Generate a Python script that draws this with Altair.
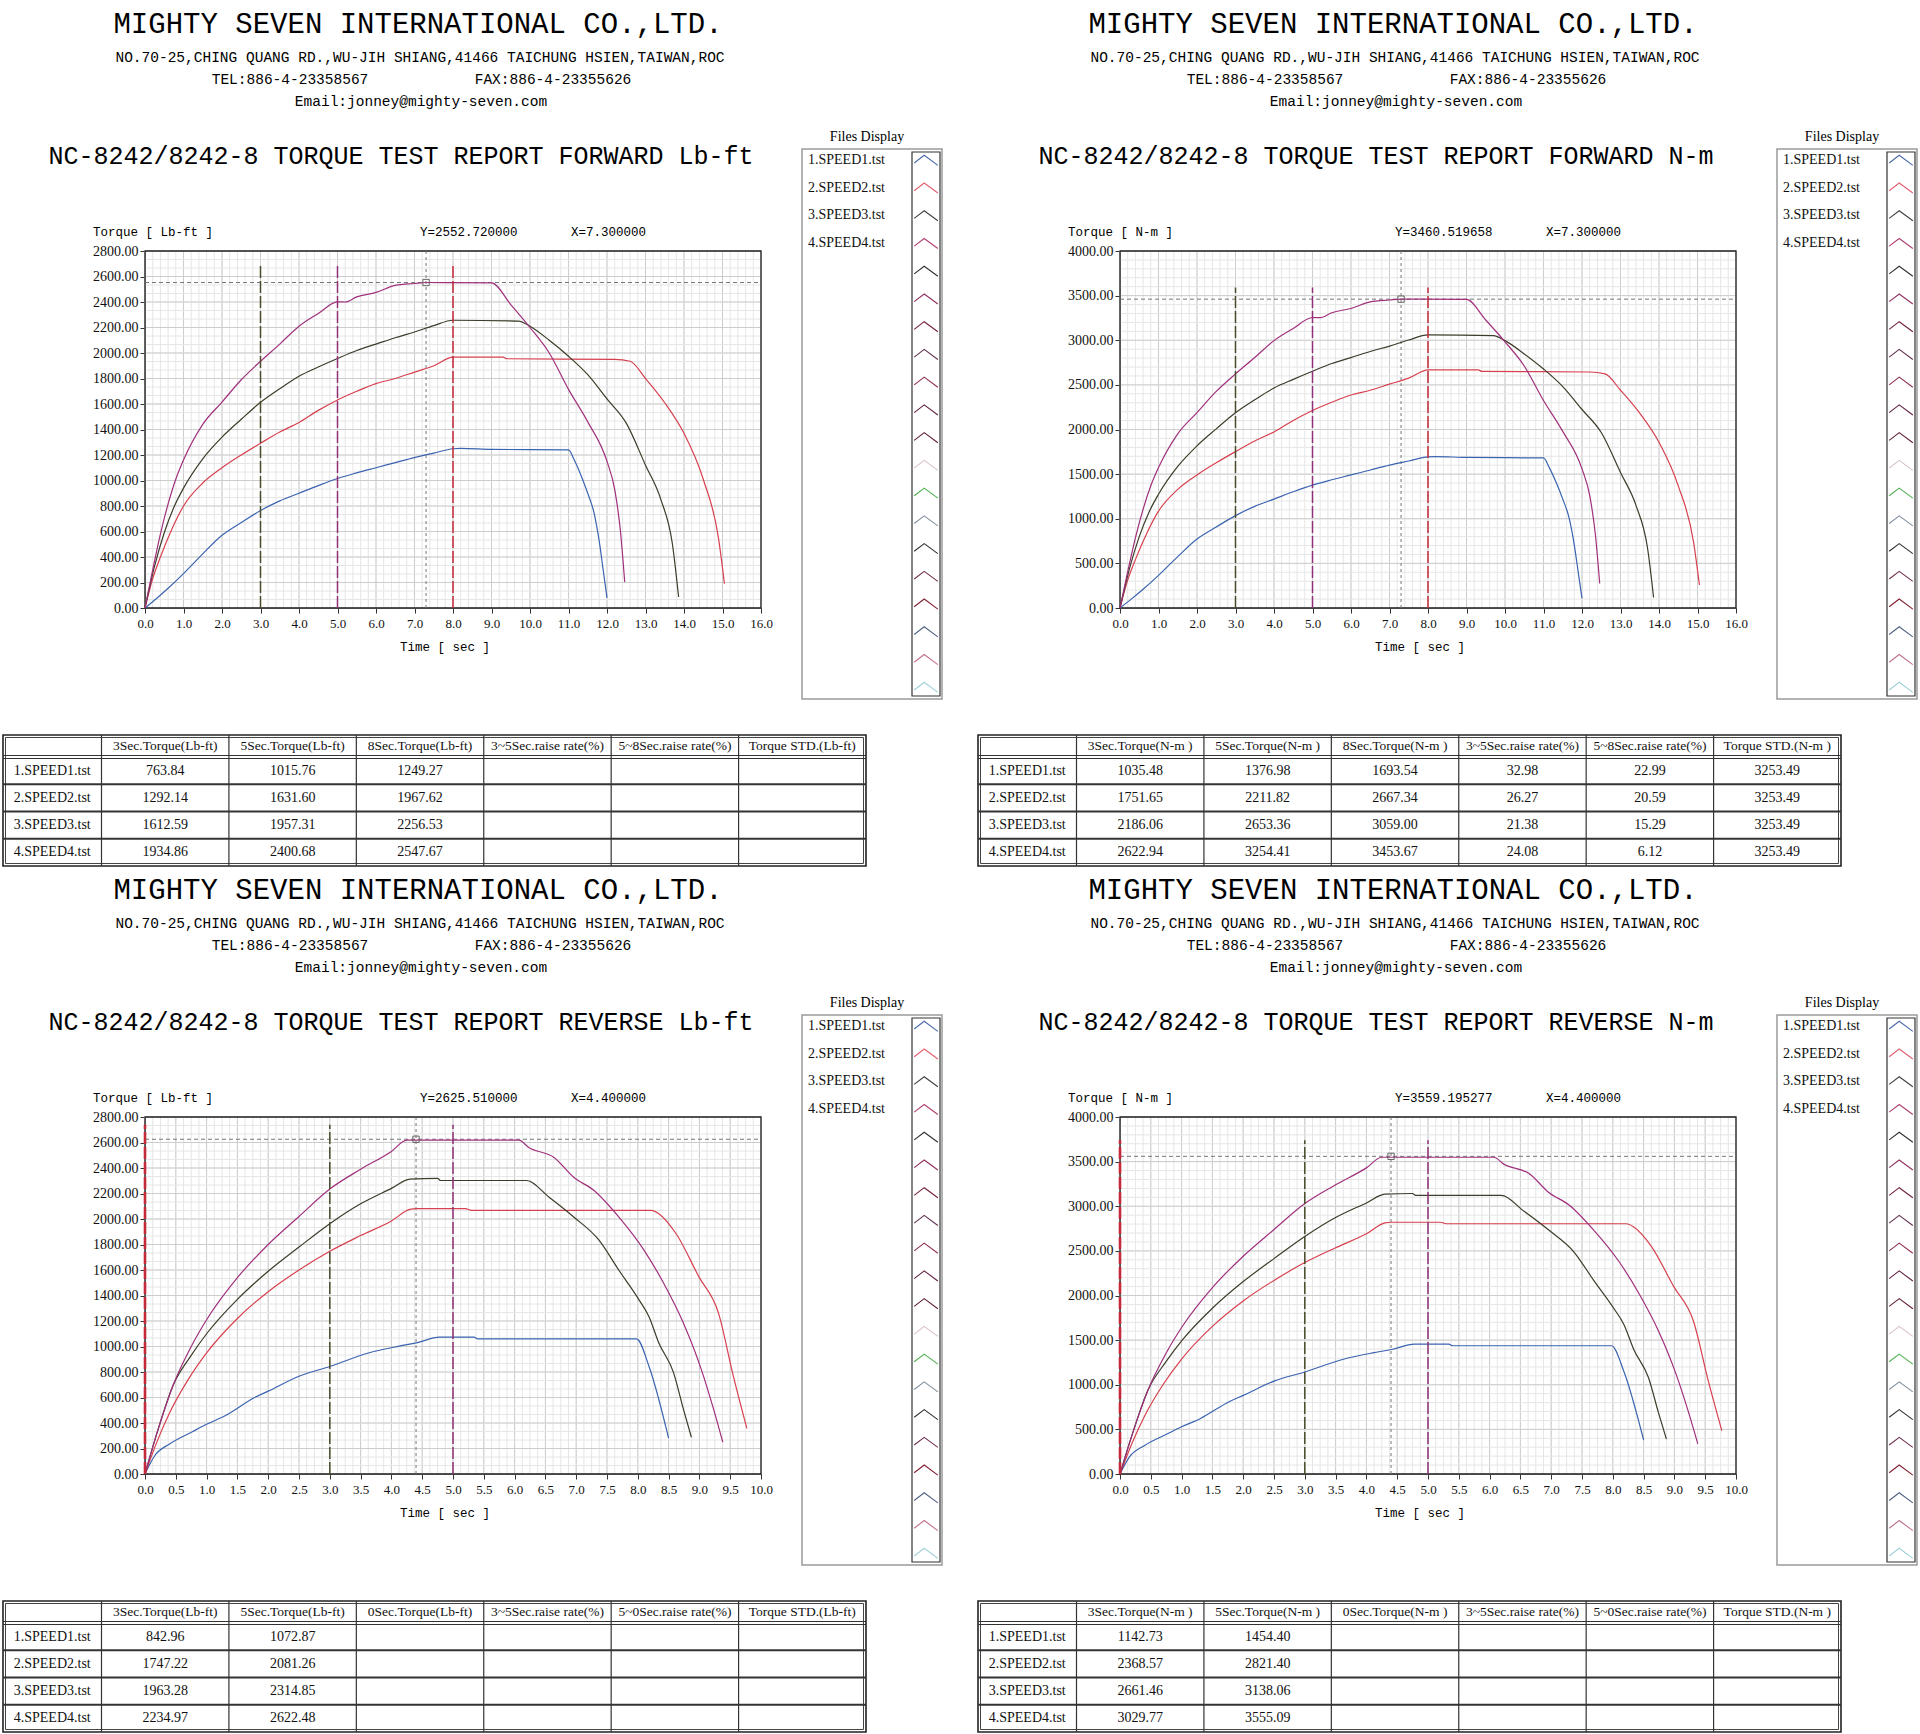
import altair as alt
import pandas as pd

W, H = 1920, 1734

# ---------------- text content ----------------
COMPANY = "MIGHTY SEVEN INTERNATIONAL CO.,LTD."
ADDRESS = "NO.70-25,CHING QUANG RD.,WU-JIH SHIANG,41466 TAICHUNG HSIEN,TAIWAN,ROC"
TEL = "TEL:886-4-23358567"
FAX = "FAX:886-4-23355626"
EMAIL = "Email:jonney@mighty-seven.com"

SERIES = ["1.SPEED1.tst", "2.SPEED2.tst", "3.SPEED3.tst", "4.SPEED4.tst"]
SERIES_COLORS = ["#3a63b0", "#d7404f", "#3c3c2a", "#a0307c"]

CHEVRON_COLORS = ["#4a6aa8", "#e06070", "#404040", "#b04070", "#303030",
                  "#903060", "#702040", "#603050", "#903050", "#602040",
                  "#602030", "#d8c0c8", "#50b050", "#8090a0", "#303030",
                  "#703050", "#802030", "#506080", "#c07090", "#a0d0d8"]

# ---------------- forward test (time in sec) ----------------
FWD_T1 = [0, 0.3, 0.6, 1.0, 1.5, 2.0, 2.5, 3.0, 3.5, 4.0, 4.5, 5.0, 5.5, 6.0, 6.5, 7.0, 7.5, 8.0, 8.2, 9.0, 10.0, 11.0, 11.15, 11.33, 11.5, 11.66, 11.8, 11.9, 12.0]
FWD_LB1 = [0, 75, 155, 270, 425, 570, 670, 764, 840, 900, 960, 1016, 1060, 1100, 1140, 1180, 1215, 1249, 1252, 1244, 1242, 1240, 1160, 1036, 900, 750, 520, 300, 80]
FWD_NM1 = [0, 102, 210, 366, 576, 773, 908, 1035, 1139, 1220, 1302, 1377, 1437, 1491, 1546, 1600, 1647, 1694, 1697, 1687, 1684, 1681, 1573, 1405, 1220, 1017, 705, 407, 108]

FWD_T2 = [0, 0.2, 0.4, 0.7, 1.0, 1.5, 2.0, 2.5, 3.0, 3.5, 4.0, 4.5, 5.0, 5.5, 6.0, 6.5, 7.0, 7.5, 8.0, 9.3, 9.4, 12.2, 12.6, 13.0, 13.5, 14.0, 14.5, 14.9, 15.05]
FWD_LB2 = [0, 230, 400, 620, 800, 980, 1100, 1200, 1292, 1380, 1455, 1550, 1632, 1700, 1760, 1800, 1850, 1900, 1968, 1968, 1955, 1950, 1935, 1800, 1610, 1370, 1010, 540, 190]
FWD_NM2 = [0, 312, 542, 841, 1085, 1329, 1491, 1627, 1752, 1871, 1973, 2101, 2213, 2305, 2386, 2440, 2508, 2576, 2668, 2668, 2651, 2644, 2623, 2440, 2183, 1857, 1369, 732, 258]

FWD_T3 = [0, 0.25, 0.5, 0.75, 1.0, 1.5, 2.0, 2.5, 3.0, 3.5, 4.0, 4.5, 5.0, 5.5, 6.0, 6.5, 7.0, 7.5, 8.0, 9.7, 10.0, 10.5, 11.0, 11.5, 12.0, 12.5, 13.0, 13.4, 13.7, 13.86]
FWD_LB3 = [0, 330, 590, 790, 940, 1170, 1340, 1480, 1613, 1720, 1818, 1890, 1957, 2020, 2070, 2120, 2165, 2215, 2257, 2250, 2210, 2100, 1975, 1830, 1640, 1450, 1120, 850, 500, 86]
FWD_NM3 = [0, 447, 800, 1071, 1274, 1586, 1817, 2007, 2187, 2332, 2465, 2562, 2653, 2739, 2806, 2874, 2935, 3003, 3060, 3051, 2996, 2847, 2678, 2481, 2224, 1966, 1518, 1152, 678, 117]

FWD_T4 = [0, 0.2, 0.4, 0.8, 1.0, 1.5, 2.0, 2.5, 3.0, 3.5, 4.0, 4.5, 5.0, 5.2, 5.5, 6.0, 6.5, 7.0, 7.3, 9.0, 9.5, 10.0, 10.5, 11.0, 11.5, 12.0, 12.2, 12.35, 12.46]
FWD_LB4 = [0, 300, 580, 1010, 1160, 1440, 1615, 1790, 1935, 2070, 2210, 2310, 2401, 2400, 2440, 2475, 2530, 2545, 2553, 2550, 2380, 2200, 2000, 1715, 1460, 1150, 930, 600, 203]
FWD_NM4 = [0, 407, 786, 1369, 1573, 1952, 2190, 2427, 2623, 2807, 2996, 3132, 3255, 3254, 3308, 3356, 3430, 3451, 3461, 3457, 3227, 2983, 2712, 2325, 1979, 1559, 1261, 813, 275]

# ---------------- reverse test ----------------
REV_T1 = [0, 0.16, 0.4, 0.77, 1.0, 1.3, 1.78, 2.0, 2.51, 3.0, 3.64, 4.13, 4.41, 4.78, 5.34, 5.4, 7.98, 8.18, 8.5]
REV_LB1 = [0, 145, 236, 332, 390, 457, 600, 650, 769, 843, 951, 1003, 1029, 1073, 1073, 1060, 1060, 847, 281]
REV_NM1 = [0, 197, 320, 450, 529, 620, 813, 881, 1043, 1143, 1289, 1360, 1395, 1455, 1455, 1437, 1437, 1148, 381]

REV_T2 = [0, 0.2, 0.4, 0.7, 1.0, 1.5, 2.0, 2.5, 3.0, 3.5, 4.0, 4.3, 4.4, 5.2, 5.3, 8.22, 8.34, 8.62, 8.99, 9.31, 9.55, 9.77]
REV_LB2 = [0, 260, 480, 740, 950, 1220, 1430, 1600, 1747, 1870, 1985, 2075, 2081, 2081, 2068, 2068, 2042, 1886, 1548, 1262, 769, 358]
REV_NM2 = [0, 353, 651, 1003, 1288, 1654, 1939, 2169, 2369, 2535, 2691, 2813, 2821, 2821, 2804, 2804, 2768, 2557, 2099, 1711, 1043, 485]

REV_T3 = [0, 0.2, 0.46, 0.75, 1.0, 1.5, 2.0, 2.5, 3.0, 3.5, 4.0, 4.3, 4.75, 4.8, 6.19, 6.56, 6.96, 7.37, 7.69, 8.02, 8.18, 8.34, 8.58, 8.74, 8.87]
REV_LB3 = [0, 330, 700, 930, 1100, 1370, 1590, 1780, 1963, 2119, 2240, 2312, 2318, 2302, 2302, 2171, 2016, 1834, 1600, 1366, 1236, 1029, 795, 509, 288]
REV_NM3 = [0, 447, 949, 1261, 1491, 1857, 2156, 2413, 2661, 2873, 3037, 3135, 3143, 3121, 3121, 2943, 2733, 2487, 2169, 1852, 1676, 1395, 1078, 690, 390]

REV_T4 = [0, 0.2, 0.46, 0.75, 1.0, 1.5, 2.0, 2.5, 3.0, 3.5, 4.0, 4.25, 6.07, 6.23, 6.64, 6.96, 7.29, 7.69, 8.1, 8.42, 8.74, 9.03, 9.23, 9.38]
REV_LB4 = [0, 330, 700, 1000, 1210, 1540, 1800, 2020, 2235, 2390, 2530, 2618, 2618, 2561, 2483, 2327, 2223, 2016, 1756, 1496, 1184, 821, 509, 249]
REV_NM4 = [0, 447, 949, 1356, 1641, 2088, 2440, 2739, 3030, 3240, 3430, 3549, 3549, 3472, 3366, 3155, 3014, 2733, 2381, 2028, 1605, 1113, 690, 338]

# ---------------- ticks ----------------
X_TICKS_FWD = [0, 1, 2, 3, 4, 5, 6, 7, 8, 9, 10, 11, 12, 13, 14, 15, 16]
X_TICKS_REV = [0, 0.5, 1, 1.5, 2, 2.5, 3, 3.5, 4, 4.5, 5, 5.5, 6, 6.5, 7, 7.5, 8, 8.5, 9, 9.5, 10]
Y_TICKS_LB = [0, 200, 400, 600, 800, 1000, 1200, 1400, 1600, 1800, 2000, 2200, 2400, 2600, 2800]
Y_TICKS_NM = [0, 500, 1000, 1500, 2000, 2500, 3000, 3500, 4000]

# ---------------- tables ----------------
COLS_FWD_LB = ["3Sec.Torque(Lb-ft)", "5Sec.Torque(Lb-ft)", "8Sec.Torque(Lb-ft)", "3~5Sec.raise rate(%)", "5~8Sec.raise rate(%)", "Torque STD.(Lb-ft)"]
COLS_FWD_NM = ["3Sec.Torque(N-m )", "5Sec.Torque(N-m )", "8Sec.Torque(N-m )", "3~5Sec.raise rate(%)", "5~8Sec.raise rate(%)", "Torque STD.(N-m )"]
COLS_REV_LB = ["3Sec.Torque(Lb-ft)", "5Sec.Torque(Lb-ft)", "0Sec.Torque(Lb-ft)", "3~5Sec.raise rate(%)", "5~0Sec.raise rate(%)", "Torque STD.(Lb-ft)"]
COLS_REV_NM = ["3Sec.Torque(N-m )", "5Sec.Torque(N-m )", "0Sec.Torque(N-m )", "3~5Sec.raise rate(%)", "5~0Sec.raise rate(%)", "Torque STD.(N-m )"]

VALS_FWD_LB = [["763.84", "1015.76", "1249.27"],
               ["1292.14", "1631.60", "1967.62"],
               ["1612.59", "1957.31", "2256.53"],
               ["1934.86", "2400.68", "2547.67"]]
VALS_FWD_NM = [["1035.48", "1376.98", "1693.54", "32.98", "22.99", "3253.49"],
               ["1751.65", "2211.82", "2667.34", "26.27", "20.59", "3253.49"],
               ["2186.06", "2653.36", "3059.00", "21.38", "15.29", "3253.49"],
               ["2622.94", "3254.41", "3453.67", "24.08", "6.12", "3253.49"]]
VALS_REV_LB = [["842.96", "1072.87"], ["1747.22", "2081.26"], ["1963.28", "2314.85"], ["2234.97", "2622.48"]]
VALS_REV_NM = [["1142.73", "1454.40"], ["2368.57", "2821.40"], ["2661.46", "3138.06"], ["3029.77", "3555.09"]]

MARK_OLIVE, MARK_PURPLE, MARK_RED = "#4a4a2a", "#8e2f77", "#c42a3a"

PANELS = [
    dict(dx=0, dy=0, title="NC-8242/8242-8 TORQUE TEST REPORT FORWARD Lb-ft", ylab="Torque [ Lb-ft ]",
         ytext="Y=2552.720000", xtext="X=7.300000", cx=7.3, cy=2552.72,
         xmax=16, ymax=2800, xticks=X_TICKS_FWD, yticks=Y_TICKS_LB, xminor=0.2, yminor=200 / 3,
         series=[(FWD_T1, FWD_LB1), (FWD_T2, FWD_LB2), (FWD_T3, FWD_LB3), (FWD_T4, FWD_LB4)],
         markers=[3, 5, 8], mcolors=[MARK_OLIVE, MARK_PURPLE, MARK_RED], mwidth=[1.5, 1.5, 1.5], mtop=2700,
         cols=COLS_FWD_LB, vals=VALS_FWD_LB),
    dict(dx=975, dy=0, title="NC-8242/8242-8 TORQUE TEST REPORT FORWARD N-m", ylab="Torque [ N-m  ]",
         ytext="Y=3460.519658", xtext="X=7.300000", cx=7.3, cy=3460.519658,
         xmax=16, ymax=4000, xticks=X_TICKS_FWD, yticks=Y_TICKS_NM, xminor=0.2, yminor=100,
         series=[(FWD_T1, FWD_NM1), (FWD_T2, FWD_NM2), (FWD_T3, FWD_NM3), (FWD_T4, FWD_NM4)],
         markers=[3, 5, 8], mcolors=[MARK_OLIVE, MARK_PURPLE, MARK_RED], mwidth=[1.5, 1.5, 1.5], mtop=3590,
         cols=COLS_FWD_NM, vals=VALS_FWD_NM),
    dict(dx=0, dy=866, title="NC-8242/8242-8 TORQUE TEST REPORT REVERSE Lb-ft", ylab="Torque [ Lb-ft ]",
         ytext="Y=2625.510000", xtext="X=4.400000", cx=4.4, cy=2625.51,
         xmax=10, ymax=2800, xticks=X_TICKS_REV, yticks=Y_TICKS_LB, xminor=0.125, yminor=200 / 3,
         series=[(REV_T1, REV_LB1), (REV_T2, REV_LB2), (REV_T3, REV_LB3), (REV_T4, REV_LB4)],
         markers=[0, 3, 5], mcolors=[MARK_RED, MARK_OLIVE, MARK_PURPLE], mwidth=[2.6, 1.5, 1.5], mtop=2740,
         cols=COLS_REV_LB, vals=VALS_REV_LB),
    dict(dx=975, dy=866, title="NC-8242/8242-8 TORQUE TEST REPORT REVERSE N-m", ylab="Torque [ N-m  ]",
         ytext="Y=3559.195277", xtext="X=4.400000", cx=4.4, cy=3559.195277,
         xmax=10, ymax=4000, xticks=X_TICKS_REV, yticks=Y_TICKS_NM, xminor=0.125, yminor=100,
         series=[(REV_T1, REV_NM1), (REV_T2, REV_NM2), (REV_T3, REV_NM3), (REV_T4, REV_NM4)],
         markers=[0, 3, 5], mcolors=[MARK_RED, MARK_OLIVE, MARK_PURPLE], mwidth=[2.6, 1.5, 1.5], mtop=3740,
         cols=COLS_REV_NM, vals=VALS_REV_NM),
]

MONO = "Liberation Mono"
SERIF = "Liberation Serif"
ONE = pd.DataFrame({"k": [0]})
CHEV_PATH = "M-1,0.25L-0.15,-0.4L1,0.45"


def steps(maxv, step):
    n = int(round(maxv / step))
    return [i * step for i in range(n + 1)]


def text_layer(s, x, y, size, font, align="left", color="#000"):
    return alt.Chart(ONE).mark_text(text=s, align=align, baseline="middle", font=font,
                                    fontSize=size, color=color).encode(
        x=alt.value(x), y=alt.value(y))


def panel_layers(p):
    dx, dy = p["dx"], p["dy"]
    x0, x1 = 145 + dx, 761 + dx
    ytop, ybot = 251 + dy, 608 + dy
    xsc = alt.Scale(domain=[0, p["xmax"]], range=[x0, x1], nice=False, zero=False)
    ysc = alt.Scale(domain=[0, p["ymax"]], range=[ybot, ytop], nice=False, zero=False)
    L = []

    # grids
    for vals, col in [(steps(p["xmax"], p["xminor"]), "#e6e6e6"), (p["xticks"], "#cdcdcd")]:
        L.append(alt.Chart(pd.DataFrame({"g": vals})).mark_rule(color=col, strokeWidth=1).encode(
            x=alt.X("g:Q", scale=xsc, axis=None), y=alt.value(ytop), y2=alt.value(ybot)))
    for vals, col in [(steps(p["ymax"], p["yminor"]), "#e6e6e6"), (p["yticks"], "#cdcdcd")]:
        L.append(alt.Chart(pd.DataFrame({"g": vals})).mark_rule(color=col, strokeWidth=1).encode(
            y=alt.Y("g:Q", scale=ysc, axis=None), x=alt.value(x0), x2=alt.value(x1)))

    # plot border
    frame = pd.DataFrame({"a": [0], "b": [p["xmax"]], "c": [0], "d": [p["ymax"]]})
    L.append(alt.Chart(frame).mark_rect(fill="white", fillOpacity=0, stroke="#222", strokeWidth=1.3).encode(
        x=alt.X("a:Q", scale=xsc, axis=None), x2="b:Q",
        y=alt.Y("c:Q", scale=ysc, axis=None), y2="d:Q"))

    # cursor lines
    L.append(alt.Chart(pd.DataFrame({"x": [p["cx"]], "a": [0], "b": [p["ymax"]]})).mark_rule(
        color="#777", strokeWidth=1, strokeDash=[3, 3]).encode(
        x=alt.X("x:Q", scale=xsc, axis=None), y=alt.Y("a:Q", scale=ysc, axis=None), y2="b:Q"))
    L.append(alt.Chart(pd.DataFrame({"y": [p["cy"]], "a": [0], "b": [p["xmax"]]})).mark_rule(
        color="#777", strokeWidth=1, strokeDash=[4, 3]).encode(
        y=alt.Y("y:Q", scale=ysc, axis=None), x=alt.X("a:Q", scale=xsc, axis=None), x2="b:Q"))

    # torque curves with axes
    rows = []
    for s, (ts, vs) in zip(SERIES, p["series"]):
        for i, (t, v) in enumerate(zip(ts, vs)):
            rows.append({"t": t, "v": v, "s": s, "i": i})
    df = pd.DataFrame(rows)
    xaxis = alt.Axis(orient="bottom", offset=ybot - H, values=p["xticks"], format=".1f", grid=False,
                     domainColor="#333", tickColor="#333", tickSize=5, labelFont=SERIF,
                     labelFontSize=13, labelColor="#111", labelPadding=4, labelFlush=False,
                     labelOverlap=False, title=None)
    yaxis = alt.Axis(orient="left", offset=-x0, values=p["yticks"], format=".2f", grid=False,
                     domainColor="#333", tickColor="#333", tickSize=5, labelFont=SERIF,
                     labelFontSize=14, labelColor="#111", labelPadding=2, labelFlush=False,
                     labelOverlap=False, title=None)
    L.append(alt.Chart(df).mark_line(strokeWidth=1.2, interpolate="monotone").encode(
        x=alt.X("t:Q", scale=xsc, axis=xaxis),
        y=alt.Y("v:Q", scale=ysc, axis=yaxis),
        color=alt.Color("s:N", scale=alt.Scale(domain=SERIES, range=SERIES_COLORS), legend=None),
        detail="s:N", order="i:Q"))

    # marker lines (3s / 5s / 8s or 0s)
    mk = pd.DataFrame({"x": p["markers"], "c": p["mcolors"], "w": p["mwidth"], "a": 0, "b": p["mtop"]})
    L.append(alt.Chart(mk).mark_rule(strokeDash=[12, 3]).encode(
        x=alt.X("x:Q", scale=xsc, axis=None), y=alt.Y("a:Q", scale=ysc, axis=None), y2="b:Q",
        color=alt.Color("c:N", scale=None), strokeWidth=alt.StrokeWidth("w:Q", scale=None)))

    # cursor square
    L.append(alt.Chart(pd.DataFrame({"x": [p["cx"]], "y": [p["cy"]]})).mark_point(
        shape="square", size=40, filled=False, color="#666", strokeWidth=1, opacity=1).encode(
        x=alt.X("x:Q", scale=xsc, axis=None), y=alt.Y("y:Q", scale=ysc, axis=None)))

    # header texts
    L.append(text_layer(COMPANY, 418 + dx, 24 + dy, 29, MONO, align="center"))
    L.append(text_layer(ADDRESS, 420 + dx, 58 + dy, 14.5, MONO, align="center"))
    L.append(text_layer(TEL, 290 + dx, 80 + dy, 14.5, MONO, align="center"))
    L.append(text_layer(FAX, 553 + dx, 80 + dy, 14.5, MONO, align="center"))
    L.append(text_layer(EMAIL, 421 + dx, 102 + dy, 14.5, MONO, align="center"))
    L.append(text_layer(p["title"], 401 + dx, 156 + dy, 25, MONO, align="center"))
    L.append(text_layer(p["ylab"], 93 + dx, 232 + dy, 12.5, MONO))
    L.append(text_layer(p["ytext"], 420 + dx, 232 + dy, 12.5, MONO))
    L.append(text_layer(p["xtext"], 571 + dx, 232 + dy, 12.5, MONO))
    L.append(text_layer("Time [ sec ]", 445 + dx, 647 + dy, 12.5, MONO, align="center"))

    # "Files Display" legend box
    L.append(text_layer("Files Display", 867 + dx, 137 + dy, 14, SERIF, align="center"))
    L.append(alt.Chart(ONE).mark_rect(fill="white", stroke="#9a9a9a", strokeWidth=1.5).encode(
        x=alt.value(802 + dx), x2=alt.value(942 + dx), y=alt.value(149 + dy), y2=alt.value(699 + dy)))
    L.append(alt.Chart(ONE).mark_rect(fill="white", stroke="#333", strokeWidth=1.2).encode(
        x=alt.value(912 + dx), x2=alt.value(940 + dx), y=alt.value(152 + dy), y2=alt.value(696 + dy)))
    isc = alt.Scale(domain=[0, 19], range=[160 + dy, 687 + dy], nice=False, zero=False)
    L.append(alt.Chart(pd.DataFrame({"i": list(range(4)), "n": SERIES})).mark_text(
        align="left", baseline="middle", font=SERIF, fontSize=14, color="#111").encode(
        x=alt.value(808 + dx), y=alt.Y("i:Q", scale=isc, axis=None), text="n:N"))
    L.append(alt.Chart(pd.DataFrame({"i": list(range(20)), "c": CHEVRON_COLORS})).mark_point(
        shape=CHEV_PATH, size=560, filled=False, strokeWidth=1.1, opacity=1).encode(
        x=alt.value(926 + dx), y=alt.Y("i:Q", scale=isc, axis=None), color=alt.Color("c:N", scale=None)))

    # results table
    txs = alt.Scale(domain=[0, 1, 7], range=[3 + dx, 101.5 + dx, 866 + dx], nice=False, zero=False)
    tys = alt.Scale(domain=[0, 1, 5], range=[735 + dy, 757 + dy, 866 + dy], nice=False, zero=False)
    tf = pd.DataFrame({"a": [0], "b": [7], "c": [0], "d": [5]})
    L.append(alt.Chart(tf).mark_rect(fill="white", stroke="#222", strokeWidth=1.6).encode(
        x=alt.X("a:Q", scale=txs, axis=None), x2="b:Q", y=alt.Y("c:Q", scale=tys, axis=None), y2="d:Q"))
    L.append(alt.Chart(tf).mark_rect(fill="white", fillOpacity=0, stroke="#444", strokeWidth=1,
                                     xOffset=2.5, x2Offset=-2.5, yOffset=2.5, y2Offset=-2.5).encode(
        x=alt.X("a:Q", scale=txs, axis=None), x2="b:Q", y=alt.Y("c:Q", scale=tys, axis=None), y2="d:Q"))
    ve = pd.DataFrame({"e": [1, 2, 3, 4, 5, 6], "a": 0, "b": 5})
    L.append(alt.Chart(ve).mark_rule(color="#333", strokeWidth=1.2).encode(
        x=alt.X("e:Q", scale=txs, axis=None), y=alt.Y("a:Q", scale=tys, axis=None), y2="b:Q"))
    he = pd.DataFrame({"e": [2, 3, 4], "a": 0, "b": 7})
    L.append(alt.Chart(he).mark_rule(color="#333", strokeWidth=1.8).encode(
        y=alt.Y("e:Q", scale=tys, axis=None), x=alt.X("a:Q", scale=txs, axis=None), x2="b:Q"))
    for off in (-1.5, 1.5):
        L.append(alt.Chart(pd.DataFrame({"e": [1], "a": 0, "b": 7})).mark_rule(
            color="#333", strokeWidth=1, yOffset=off).encode(
            y=alt.Y("e:Q", scale=tys, axis=None), x=alt.X("a:Q", scale=txs, axis=None), x2="b:Q"))
    hdr = pd.DataFrame({"cx": [j + 1.5 for j in range(6)], "cy": 0.5, "t": p["cols"]})
    L.append(alt.Chart(hdr).mark_text(align="center", baseline="middle", font=SERIF, fontSize=13.5,
                                      color="#111").encode(
        x=alt.X("cx:Q", scale=txs, axis=None), y=alt.Y("cy:Q", scale=tys, axis=None), text="t:N"))
    cells = []
    for r, name in enumerate(SERIES):
        cells.append({"cx": 0.5, "cy": r + 1.5, "t": name})
        for j, v in enumerate(p["vals"][r]):
            cells.append({"cx": j + 1.5, "cy": r + 1.5, "t": v})
    L.append(alt.Chart(pd.DataFrame(cells)).mark_text(align="center", baseline="middle", font=SERIF,
                                                      fontSize=14, color="#111").encode(
        x=alt.X("cx:Q", scale=txs, axis=None), y=alt.Y("cy:Q", scale=tys, axis=None), text="t:N"))
    return L


layers = []
for p in PANELS:
    layers += panel_layers(p)

chart = alt.layer(*layers).resolve_scale(
    x="independent", y="independent", color="independent"
).properties(
    width=W, height=H, padding=0, background="white",
    autosize=alt.AutoSizeParams(type="none"),
).configure_view(strokeWidth=0)

chart.save("out.html", embed_options={"renderer": "svg", "actions": False})
